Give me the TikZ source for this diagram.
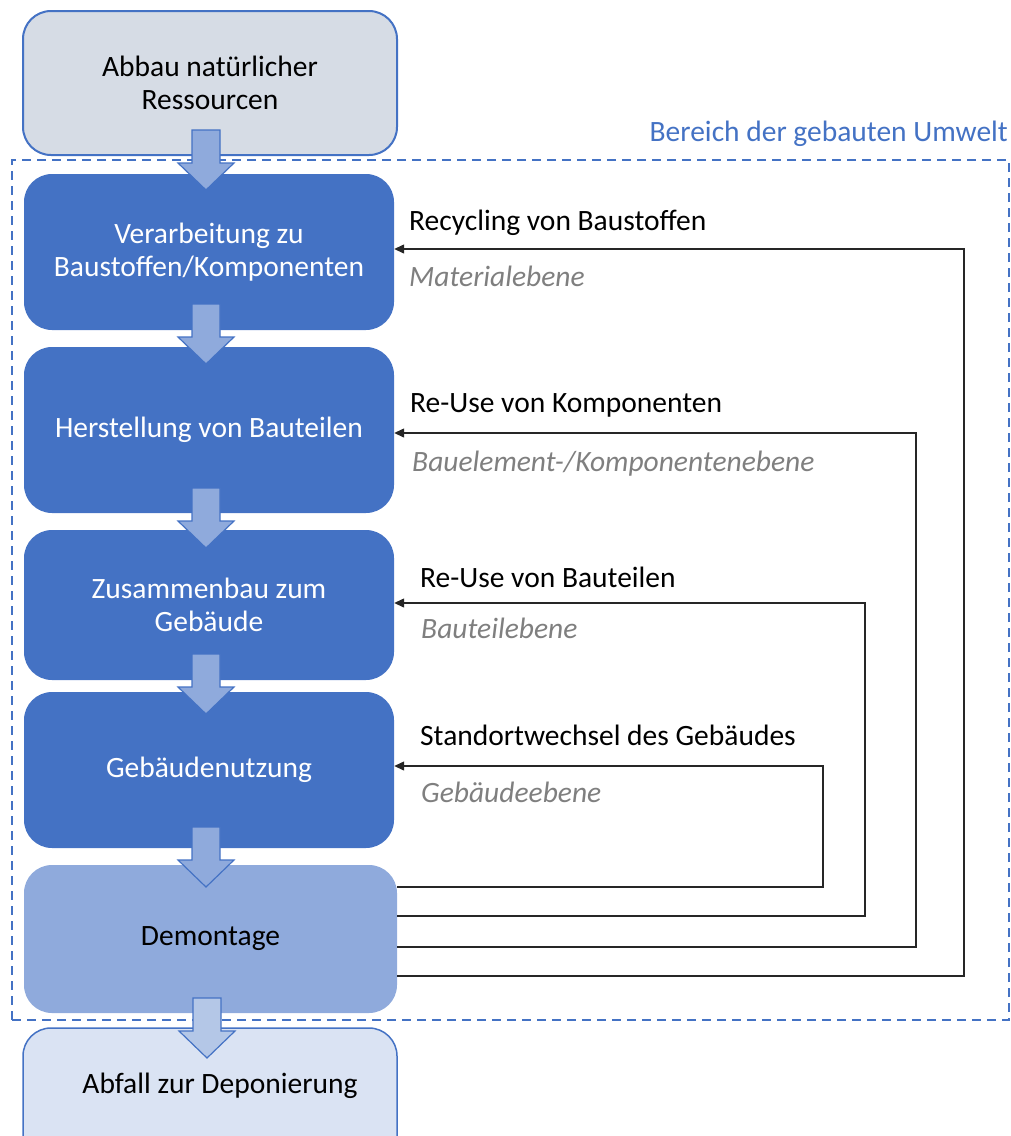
\documentclass[tikz,border=0pt]{standalone}
\usepackage{fontspec}
\setmainfont{Carlito}
\usetikzlibrary{arrows.meta}
\definecolor{accent}{HTML}{4472C4}
\definecolor{lightblue}{HTML}{8FAADC}
\definecolor{lighterblue}{HTML}{B4C7E7}
\definecolor{paleblue}{HTML}{DAE3F3}
\definecolor{grayblue}{HTML}{D6DCE5}
\definecolor{lvlgray}{HTML}{7F7F7F}
\begin{document}
\begin{tikzpicture}[x=1pt,y=1pt,
  font=\fontsize{29.5}{32.5}\selectfont,
  stage/.style={rectangle, rounded corners=28pt, inner sep=0pt, align=center},
  darkstage/.style={stage, fill=accent, text=white, minimum width=370pt},
  blockarrow/.pic={\path[pic actions] (-14,0) -- (-14,-33) -- (-28,-33) -- (0,-60) -- (28,-33) -- (14,-33) -- (14,0) -- cycle;},
  flowarrow/.style={draw=accent, line width=1.2pt, fill=lightblue},
  fb/.style={draw=black!85, line width=1.3pt, -{Triangle[length=10pt,width=9pt]}},
  lbl/.style={anchor=base west, inner sep=0pt},
  lvl/.style={lbl, text=lvlgray, font=\fontsize{29.5}{32.5}\selectfont\itshape}
]
\path[use as bounding box, clip] (0,0) rectangle (1011,-1136);

% frame of the built environment
\node[draw=accent, dashed, dash pattern=on 9pt off 6pt, line width=1.8pt, rectangle, inner sep=0pt,
      minimum width=997pt, minimum height=860pt] (frame) at (510.5,-590) {};
\node[anchor=base east, inner sep=0pt, text=accent] (frametitle) at (1008,-141) {Bereich der gebauten Umwelt};

% stages
\node[stage, fill=grayblue, draw=accent, line width=2pt, minimum width=374pt, minimum height=144pt] (b1) at (210,-83) {Abbau natürlicher\\Ressourcen};
\node[darkstage, minimum height=156pt] (b2) at (209,-252) {Verarbeitung zu\\Baustoffen/Komponenten};
\node[darkstage, minimum height=166pt] (b3) at (209,-430) {Herstellung von Bauteilen};
\node[darkstage, minimum height=150pt] (b4) at (209,-605) {Zusammenbau zum\\Gebäude};
\node[darkstage, minimum height=156pt] (b5) at (209,-770) {Gebäudenutzung};
\node[stage, fill=lightblue, minimum width=373pt, minimum height=148pt] (b6) at (210.5,-939) {Demontage};
\node[stage, fill=paleblue, draw=accent, line width=1.5pt, minimum width=374pt, minimum height=150pt] (b7) at (210,-1103) {};
\node[inner sep=0pt, anchor=base] (t7) at (220,-1093) {Abfall zur Deponierung};

% flow arrows
\pic[flowarrow] at (206,-130) {blockarrow};
\pic[flowarrow] at (206,-304) {blockarrow};
\pic[flowarrow] at (206,-488) {blockarrow};
\pic[flowarrow] at (206,-654) {blockarrow};
\pic[flowarrow] at (206,-827) {blockarrow};
\pic[flowarrow, fill=lighterblue] at (207,-998) {blockarrow};

% feedback loops
\coordinate (k1a) at (964,-249); \coordinate (k1b) at (964,-976);
\coordinate (k2a) at (916,-433); \coordinate (k2b) at (916,-947);
\coordinate (k3a) at (865,-603); \coordinate (k3b) at (865,-916);
\coordinate (k4a) at (823,-766); \coordinate (k4b) at (823,-887);
\draw[fb] (b6.east |- k1b) -- (k1b) -- (k1a) -- (b2.east |- k1a);
\draw[fb] (b6.east |- k2b) -- (k2b) -- (k2a) -- (b3.east |- k2a);
\draw[fb] (b6.east |- k3b) -- (k3b) -- (k3a) -- (b4.east |- k3a);
\draw[fb] (b6.east |- k4b) -- (k4b) -- (k4a) -- (b5.east |- k4a);

% labels
\node[lbl] (l1) at (409,-230) {Recycling von Baustoffen};
\node[lvl] (v1) at (409,-286) {Materialebene};
\node[lbl] (l2) at (410,-412) {Re-Use von Komponenten};
\node[lvl] (v2) at (412,-471) {Bauelement-/Komponentenebene};
\node[lbl] (l3) at (420,-587) {Re-Use von Bauteilen};
\node[lvl] (v3) at (421,-638) {Bauteilebene};
\node[lbl] (l4) at (420,-745) {Standortwechsel des Gebäudes};
\node[lvl] (v4) at (421,-802) {Gebäudeebene};
\end{tikzpicture}
\end{document}
